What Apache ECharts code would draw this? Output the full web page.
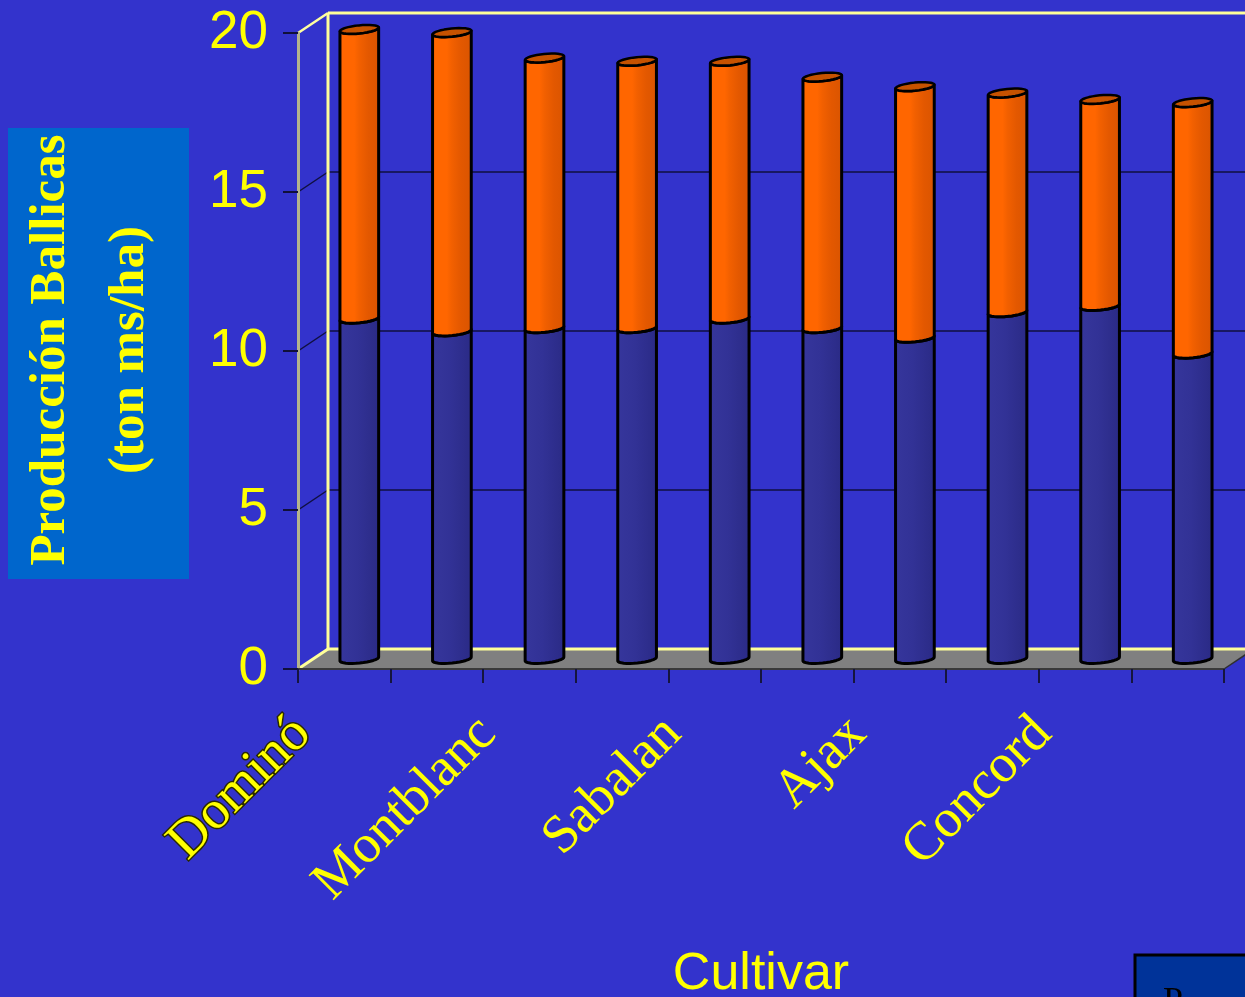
<!DOCTYPE html>
<html>
<head>
<meta charset="utf-8">
<script src="https://cdn.jsdelivr.net/npm/echarts@6/dist/echarts.min.js"></script>
<style>
  html, body { margin: 0; padding: 0; background: #3333CC; }
  #chart { width: 1245px; height: 997px; }
</style>
</head>
<body>
<div id="chart"></div>
<script>
// Cultivars on the category axis (only every other name is printed)
const cultivars = ['Dominó', '', 'Montblanc', '', 'Sabalan', '', 'Ajax', '', 'Concord', ''];
// Lower (blue) and upper (orange) portions of each stacked column, ton ms/ha
const lowerPart = [10.7, 10.3, 10.4, 10.4, 10.7, 10.4, 10.1, 10.9, 11.1, 9.6];
const upperPart = [9.1, 9.4, 8.5, 8.4, 8.1, 7.9, 7.9, 6.9, 6.5, 7.9];
// Value-axis ticks
const yTicks = [0, 5, 10, 15, 20];

// Oblique 3D look: back wall offset and column placement inside the box
const DEPTH_X = 30, DEPTH_Y = -20;
const COL_X = 15, COL_Y = -10;
const COL_WIDTH = 0.42;      // share of the category band
const CAP_RY = 4;            // half-height of the elliptic cap
const CAP_TILT = 0.1;        // cap tilt (radians), right side higher

const chart = echarts.init(document.getElementById('chart'), null, { renderer: 'canvas' });

function ellipsePoint(cx, cy, a, b, t) {
  const c = Math.cos(CAP_TILT), s = Math.sin(CAP_TILT);
  return [cx + a * Math.cos(t) * c + b * Math.sin(t) * s,
          cy - a * Math.cos(t) * s + b * Math.sin(t) * c];
}

function cylinderRenderer(bodyFill, capFill, withCap) {
  return function (params, api) {
    const i = api.value(0);
    const pBase = api.coord([i, api.value(1)]);
    const pTop = api.coord([i, api.value(2)]);
    const band = api.size([1, 0])[0];
    const a = band * COL_WIDTH / 2;
    const b = CAP_RY;
    const cx = pBase[0] + COL_X;
    const yBase = pBase[1] + COL_Y;
    const yTop = pTop[1] + COL_Y;
    const N = 16;
    const pts = [];
    for (let k = 0; k <= N; k++) pts.push(ellipsePoint(cx, yTop, a, b, Math.PI - Math.PI * k / N));
    for (let k = 0; k <= N; k++) pts.push(ellipsePoint(cx, yBase, a, b, Math.PI * k / N));
    const children = [{
      type: 'polygon',
      shape: { points: pts },
      style: { fill: bodyFill, stroke: '#000000', lineWidth: 3, lineJoin: 'round' }
    }];
    if (withCap) {
      const cap = [];
      for (let k = 0; k < 32; k++) cap.push(ellipsePoint(cx, yTop, a, b, 2 * Math.PI * k / 32));
      children.push({
        type: 'polygon',
        shape: { points: cap },
        style: { fill: capFill, stroke: '#000000', lineWidth: 2.5, lineJoin: 'round' }
      });
    }
    return { type: 'group', children: children };
  };
}

// Walls, floor and back-wall gridlines of the 3D box
function frameRenderer(params, api) {
  const cs = params.coordSys;
  const left = cs.x, right = cs.x + cs.width;
  const yFloor = api.coord([0, yTicks[0]])[1];
  const yCeil = api.coord([0, yTicks[yTicks.length - 1]])[1];
  const children = [];
  children.push({
    type: 'polygon',
    shape: { points: [[left, yFloor], [right, yFloor], [right + DEPTH_X, yFloor + DEPTH_Y], [left + DEPTH_X, yFloor + DEPTH_Y]] },
    style: { fill: '#808080' }
  });
  yTicks.forEach(function (v, k) {
    if (k === 0 || k === yTicks.length - 1) return;
    const y = api.coord([0, v])[1];
    children.push({ type: 'line', shape: { x1: left, y1: y, x2: left + DEPTH_X, y2: y + DEPTH_Y }, style: { stroke: '#101040', lineWidth: 1.5 } });
    children.push({ type: 'line', shape: { x1: left + DEPTH_X, y1: y + DEPTH_Y, x2: right + DEPTH_X + 40, y2: y + DEPTH_Y }, style: { stroke: '#101040', lineWidth: 1.5 } });
  });
  const edge = { stroke: '#FFFF99', lineWidth: 3 };
  children.push({ type: 'line', shape: { x1: left, y1: yCeil, x2: left + DEPTH_X, y2: yCeil + DEPTH_Y }, style: { stroke: '#FFFFA0', lineWidth: 2.5 } });
  children.push({ type: 'line', shape: { x1: left + DEPTH_X, y1: yCeil + DEPTH_Y, x2: right + DEPTH_X + 40, y2: yCeil + DEPTH_Y }, style: edge });
  children.push({ type: 'line', shape: { x1: left + DEPTH_X, y1: yCeil + DEPTH_Y, x2: left + DEPTH_X, y2: yFloor + DEPTH_Y }, style: edge });
  children.push({ type: 'line', shape: { x1: left, y1: yFloor, x2: left + DEPTH_X, y2: yFloor + DEPTH_Y }, style: edge });
  children.push({ type: 'line', shape: { x1: left + DEPTH_X, y1: yFloor + DEPTH_Y, x2: right + DEPTH_X + 40, y2: yFloor + DEPTH_Y }, style: edge });
  children.push({ type: 'line', shape: { x1: right, y1: yFloor, x2: right + DEPTH_X, y2: yFloor + DEPTH_Y }, style: { stroke: '#303030', lineWidth: 1.5 } });
  return { type: 'group', children: children };
}

const orangeBody = {
  type: 'linear', x: 0, y: 0, x2: 1, y2: 0,
  colorStops: [
    { offset: 0, color: '#FF6600' }, { offset: 0.38, color: '#FF6600' },
    { offset: 0.5, color: '#F26000' }, { offset: 0.72, color: '#E35800' },
    { offset: 1, color: '#D95400' }
  ]
};
const blueBody = {
  type: 'linear', x: 0, y: 0, x2: 1, y2: 0,
  colorStops: [
    { offset: 0, color: '#36369C' }, { offset: 0.45, color: '#323296' },
    { offset: 1, color: '#2A2A85' }
  ]
};

const labelFont = "'Liberation Serif', 'Times New Roman', serif";
const sansFont = "'Liberation Sans', Arial, sans-serif";

const option = {
  backgroundColor: '#3333CC',
  animation: false,
  grid: { left: 298, right: 21, top: 33, bottom: 328, containLabel: false, outerBoundsMode: 'none' },
  xAxis: {
    type: 'category',
    data: cultivars,
    boundaryGap: true,
    z: 6,
    axisLine: { show: true, lineStyle: { color: '#3A3A3A', width: 2 } },
    axisTick: { show: true, interval: 0, alignWithLabel: false, length: 14, lineStyle: { color: '#15153F', width: 2 } },
    axisLabel: {
      interval: 0,
      rotate: 45,
      margin: 15,
      padding: [0, 59, 0, 0],
      color: '#FFFF00',
      fontFamily: labelFont,
      fontSize: 54,
      formatter: function (v, idx) { return idx === 0 ? '{outlined|' + v + '}' : v; },
      rich: {
        outlined: { color: '#FFFF00', fontFamily: labelFont, fontSize: 54, textBorderColor: '#2A2A00', textBorderWidth: 3 }
      }
    },
    splitLine: { show: false },
    name: 'Cultivar',
    nameLocation: 'middle',
    nameGap: 280,
    nameTextStyle: { color: '#FFFF00', fontFamily: sansFont, fontSize: 52 }
  },
  yAxis: {
    type: 'value',
    min: yTicks[0],
    max: yTicks[yTicks.length - 1],
    interval: yTicks[1] - yTicks[0],
    z: 6,
    axisLine: { show: true, lineStyle: { color: '#B4B48C', width: 3 } },
    axisTick: { show: true, length: 15, lineStyle: { color: '#10103A', width: 2 } },
    axisLabel: { color: '#FFFF00', fontFamily: sansFont, fontSize: 53, margin: 30 },
    splitLine: { show: false }
  },
  graphic: [
    { type: 'rect', left: 8, top: 128, shape: { width: 181, height: 451 }, style: { fill: '#0066CC' }, z: 1 },
    {
      type: 'text', x: 90, y: 350, rotation: Math.PI / 2, z: 2,
      style: {
        text: 'Producción Ballicas\n(ton ms/ha)',
        fill: '#FFFF00', font: "bold 51px 'Liberation Serif', 'Times New Roman', serif",
        align: 'center', verticalAlign: 'middle', lineHeight: 79
      }
    },
    { type: 'rect', x: 1135, y: 955, shape: { width: 130, height: 70 }, style: { fill: '#003399', stroke: '#000000', lineWidth: 3 }, z: 1 },
    { type: 'text', x: 1163, y: 985, z: 2, style: { text: 'P', fill: '#000000', font: "36px 'Liberation Serif', serif", align: 'left', verticalAlign: 'top' } }
  ],
  series: [
    { type: 'custom', name: 'marco', silent: true, z: 1, data: [0], renderItem: frameRenderer },
    {
      type: 'custom', name: 'Serie 1', z: 3,
      data: lowerPart.map(function (v, i) { return [i, 0, v]; }),
      encode: { x: 0, y: [1, 2] },
      renderItem: cylinderRenderer(blueBody, '#2A2A80', false)
    },
    {
      type: 'custom', name: 'Serie 2', z: 4,
      data: upperPart.map(function (v, i) { return [i, lowerPart[i], lowerPart[i] + v]; }),
      encode: { x: 0, y: [1, 2] },
      renderItem: cylinderRenderer(orangeBody, '#C65200', true)
    }
  ]
};

chart.setOption(option);
</script>
</body>
</html>
